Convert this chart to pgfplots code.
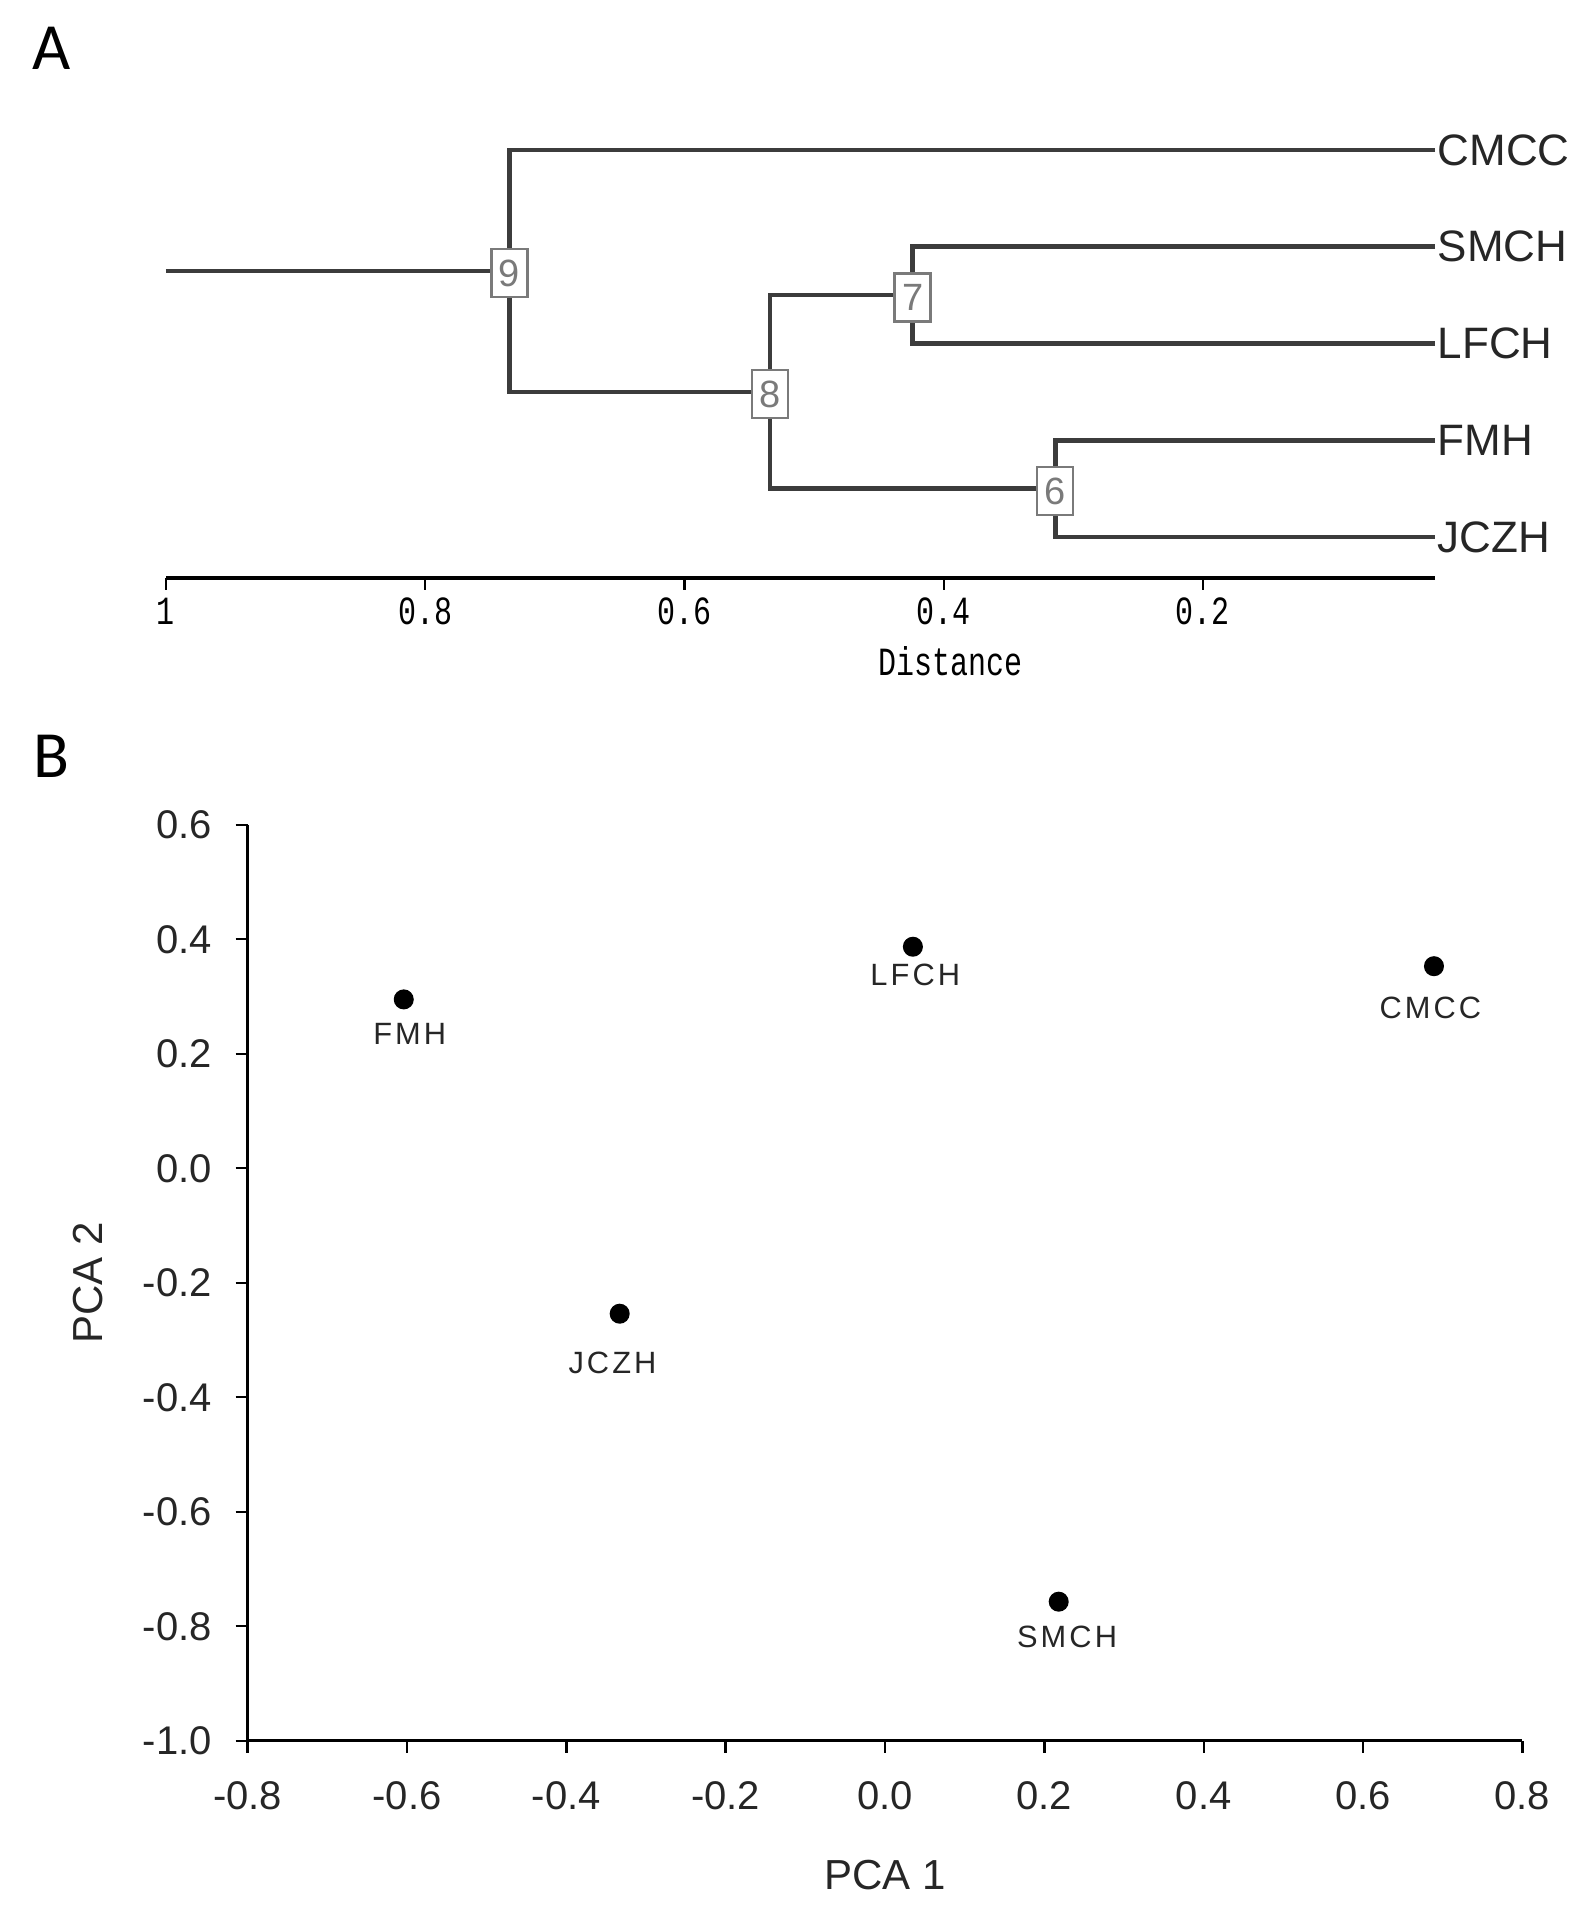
\documentclass[border=0pt]{standalone}
\usepackage{fontspec}
\setmainfont{Liberation Sans}
\newfontfamily\monofont[FakeStretch=0.75]{Liberation Mono}
\newfontfamily\spacedfont[LetterSpace=10]{Liberation Sans}
\newfontfamily\panelfont{Carlito}
\usepackage{pgfplots}
\pgfplotsset{compat=1.18}
\definecolor{treegray}{HTML}{3C3C3C}
\definecolor{boxgray}{HTML}{7A7A7A}

\begin{document}
\begin{tikzpicture}
\useasboundingbox (0,0) rectangle (396.75bp,478bp);
\node[font=\panelfont\fontsize{16.5bp}{19bp}\selectfont] at (12.8bp,465.8bp) {A};
\node[font=\panelfont\fontsize{16.5bp}{19bp}\selectfont] at (12.8bp,288.9bp) {B};

% A: dendrogram
\begin{axis}[
  at={(41.5bp,333.5bp)}, anchor=south west,
  scale only axis, width=317.25bp, height=119.1bp,
  x dir=reverse, xmin=0.021, xmax=1, ymin=0.576, ymax=5.5,
  axis x line=bottom, axis y line=none,
  axis line style={-, black, line width=0.9bp},
  xtick={1,0.8,0.6,0.4,0.2}, xticklabels={1,0.8,0.6,0.4,0.2},
  tick align=outside, major tick length=3bp,
  tick style={black, line width=0.6bp},
  xticklabel style={font=\monofont\fontsize{10bp}{12bp}\selectfont, yshift=1.5bp},
  clip=false,
]
\addplot[treegray, line width=1.15bp] coordinates {(1,3.75) (0.735,3.75)};
\addplot[treegray, line width=1.15bp] coordinates {(0.021,5) (0.735,5) (0.735,2.5) (0.534,2.5)};
\addplot[treegray, line width=1.15bp] coordinates {(0.424,3.5) (0.534,3.5) (0.534,1.5) (0.314,1.5)};
\addplot[treegray, line width=1.15bp] coordinates {(0.021,4) (0.424,4) (0.424,3) (0.021,3)};
\addplot[treegray, line width=1.15bp] coordinates {(0.021,2) (0.314,2) (0.314,1) (0.021,1)};
% node boxes
\addplot[only marks, mark=none, nodes near coords, point meta=explicit symbolic,
  every node near coord/.append style={anchor=center, draw=boxgray, fill=white,
    line width=0.6bp, text=boxgray, inner sep=0pt, minimum width=9bp, minimum height=12bp,
    yshift=-0.6bp, font=\fontsize{9.5bp}{10bp}\selectfont}]
  table[meta=lab] {
x y lab
0.735 3.75 9
0.534 2.5 8
0.424 3.5 7
0.314 1.5 6
};
% leaf labels
\addplot[only marks, mark=none, nodes near coords, point meta=explicit symbolic,
  every node near coord/.append style={anchor=west, inner sep=0.5bp, text=black!85,
    font=\fontsize{11bp}{13bp}\selectfont}]
  table[meta=lab] {
x y lab
0.021 5 CMCC
0.021 4 SMCH
0.021 3 LFCH
0.021 2 FMH
0.021 1 JCZH
};
\node[font=\monofont\fontsize{10bp}{12bp}\selectfont, yshift=-20.7bp] at (axis cs:0.395,0.576) {Distance};
\end{axis}

% B: PCA scatter
\begin{axis}[
  at={(61.9bp,42.8bp)}, anchor=south west,
  scale only axis, width=318.7bp, height=229bp,
  xmin=-0.8, xmax=0.8, ymin=-1, ymax=0.6,
  axis x line=bottom, axis y line=left,
  axis line style={-, black, line width=0.8bp},
  xtick={-0.8,-0.6,-0.4,-0.2,0,0.2,0.4,0.6,0.8},
  ytick={-1,-0.8,-0.6,-0.4,-0.2,0,0.2,0.4,0.6},
  tick align=outside, major tick length=3bp,
  tick style={black, line width=0.6bp},
  ticklabel style={font=\fontsize{10bp}{12bp}\selectfont, text=black!85},
  xticklabel style={yshift=-3.7bp},
  yticklabel style={xshift=-2.4bp},
  /pgf/number format/.cd, fixed, fixed zerofill, precision=1, assume math mode=true,
  /pgfplots/.cd,
  xlabel={PCA 1}, ylabel={PCA 2},
  label style={font=\fontsize{10.5bp}{12bp}\selectfont, text=black!85},
  xlabel style={at={(axis description cs:0.5,0)}, anchor=center, yshift=-33.5bp},
  ylabel style={at={(axis description cs:-0.1255,0.5)}, anchor=center},
  clip=false,
]
\addplot[only marks, mark=*, mark size=2.3bp, black,
  visualization depends on={\thisrow{dx} \as \dx},
  visualization depends on={\thisrow{dy} \as \dy},
  nodes near coords, point meta=explicit symbolic,
  every node near coord/.append style={anchor=center, xshift=\dx*1bp, yshift=\dy*1bp,
    text=black!85, inner sep=0pt, font=\spacedfont\fontsize{7.7bp}{9bp}\selectfont}]
  table[meta=lab] {
x y lab dx dy
-0.604 0.295 FMH 1.5 -8.5
0.035 0.387 LFCH 0.6 -7
0.689 0.353 CMCC -0.9 -10.4
-0.333 -0.254 JCZH -1.8 -12.2
0.218 -0.757 SMCH 2.1 -8.8
};
\end{axis}
\end{tikzpicture}
\end{document}
